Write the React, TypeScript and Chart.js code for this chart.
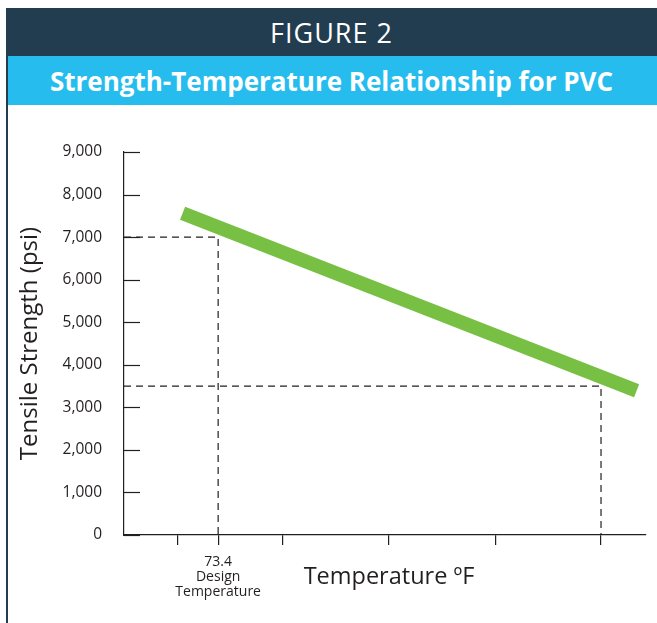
import React, { useEffect, useRef } from "react";
import { Chart, registerables } from "chart.js";

Chart.register(...registerables);

// ---- data ----
const yTickValues = [0, 1000, 2000, 3000, 4000, 5000, 6000, 7000, 8000, 9000];
// unlabeled temperature ticks, positions (°F)
const xTickValues = [69.5, 73.4, 79.6, 89.7, 99.9, 110];
const designTemp = 73.4;
const designLabel = ["73.4", "Design", "Temperature"];
const strengthLineX = [70.0, 113.4];
const strengthLineY = [7560, 3390];
const designStrength = 7000;
const highTemp = 110;
const highStrength = 3500;
const xMin = 64.4;
const xMax = 114.3;
const yMin = 0;
const yMax = 9000;

const NAVY = "#223d50";
const BLUE = "#26bdee";
const INK = "#231f20";
const GREEN = "#77c043";
const FONT = "'Open Sans', 'Noto Sans', sans-serif";

const inwardTicks = {
  id: "inwardTicks",
  afterDatasetsDraw(chart: any) {
    const y = chart.scales.y;
    const area = chart.chartArea;
    const ctx = chart.ctx;
    ctx.save();
    ctx.strokeStyle = INK;
    ctx.lineWidth = 1.2;
    y.ticks.forEach((t: any) => {
      const py = Math.round(y.getPixelForValue(t.value)) + 0.5;
      ctx.beginPath();
      ctx.moveTo(area.left, py);
      ctx.lineTo(area.left + 16, py);
      ctx.stroke();
    });
    ctx.restore();
  },
};

const xTitle = {
  id: "xTitle",
  afterDraw(chart: any) {
    const x = chart.scales.x;
    const area = chart.chartArea;
    const ctx = chart.ctx;
    ctx.save();
    ctx.fillStyle = INK;
    ctx.font = `23.5px ${FONT}`;
    ctx.textAlign = "center";
    ctx.textBaseline = "middle";
    ctx.fillText("Temperature ºF", (area.left + area.right) / 2 + 4, x.top + 42);
    ctx.restore();
  },
};

export default function App() {
  const ref = useRef<HTMLCanvasElement | null>(null);
  useEffect(() => {
    if (!ref.current) return;
    const chart = new Chart(ref.current, {
      type: "line",
      data: {
        datasets: [
          {
            data: strengthLineX.map((x, i) => ({ x, y: strengthLineY[i] })),
            borderColor: GREEN,
            borderWidth: 14,
            borderCapStyle: "butt",
            pointRadius: 0,
            tension: 0,
          },
          {
            data: [
              { x: xMin, y: designStrength },
              { x: designTemp, y: designStrength },
              { x: designTemp, y: yMin },
            ],
            borderColor: INK,
            borderWidth: 1.2,
            borderDash: [7, 5],
            pointRadius: 0,
            tension: 0,
          },
          {
            data: [
              { x: xMin, y: highStrength },
              { x: highTemp, y: highStrength },
              { x: highTemp, y: yMin },
            ],
            borderColor: INK,
            borderWidth: 1.2,
            borderDash: [7, 5],
            pointRadius: 0,
            tension: 0,
          },
        ],
      },
      options: {
        responsive: false,
        animation: false,
        layout: { padding: { top: 47, right: 11, left: 0, bottom: 0 } },
        plugins: {
          legend: { display: false },
          tooltip: { enabled: false },
          title: { display: false },
        },
        scales: {
          x: {
            type: "linear",
            min: xMin,
            max: xMax,
            afterBuildTicks: (s: any) => {
              s.ticks = xTickValues.map((v) => ({ value: v }));
            },
            afterFit: (s: any) => {
              s.height = 88;
            },
            grid: {
              drawOnChartArea: false,
              drawTicks: true,
              tickLength: 10,
              color: INK,
              lineWidth: 1.2,
            },
            border: { display: true, color: INK, width: 1.2 },
            ticks: {
              autoSkip: false,
              maxRotation: 0,
              padding: 9,
              color: INK,
              font: { family: FONT, size: 14, lineHeight: 1.1 },
              callback: (v: any) => (v === designTemp ? designLabel : ""),
            },
          },
          y: {
            type: "linear",
            min: yMin,
            max: yMax,
            afterBuildTicks: (s: any) => {
              s.ticks = yTickValues.map((v) => ({ value: v }));
            },
            afterFit: (s: any) => {
              s.width = 124;
            },
            grid: { drawOnChartArea: false, drawTicks: false },
            border: { display: true, color: INK, width: 1.2 },
            ticks: {
              padding: 22,
              color: INK,
              font: { family: FONT, size: 15.5 },
              callback: (v: any) => Number(v).toLocaleString("en-US"),
            },
            title: {
              display: true,
              text: "Tensile Strength (psi)",
              color: INK,
              font: { family: FONT, size: 24 },
              padding: { top: 16, bottom: 0 },
            },
          },
        },
      },
      plugins: [inwardTicks, xTitle],
    } as any);
    return () => chart.destroy();
  }, []);

  return (
    <div style={{ position: "absolute", left: 0, top: 0, width: 657, height: 623, background: "#fff", overflow: "hidden" }}>
      <div
        style={{
          position: "absolute",
          left: 6,
          top: 8,
          width: 651,
          height: 48,
          background: NAVY,
          color: "#fff",
          fontFamily: FONT,
          fontSize: 27,
          letterSpacing: 1,
          display: "flex",
          alignItems: "center",
          justifyContent: "center",
        }}
      >
        FIGURE 2
      </div>
      <div
        style={{
          position: "absolute",
          left: 6,
          top: 56,
          width: 651,
          height: 49,
          background: BLUE,
          color: "#fff",
          fontFamily: FONT,
          fontWeight: 700,
          fontSize: 26,
          display: "flex",
          alignItems: "center",
          justifyContent: "center",
        }}
      >
        Strength-Temperature Relationship for PVC
      </div>
      <div style={{ position: "absolute", left: 6, top: 56, width: 2, height: 567, background: NAVY }} />
      <canvas
        ref={ref}
        width={657}
        height={518}
        style={{ position: "absolute", left: 0, top: 105, width: 657, height: 518, display: "block" }}
      />
    </div>
  );
}
